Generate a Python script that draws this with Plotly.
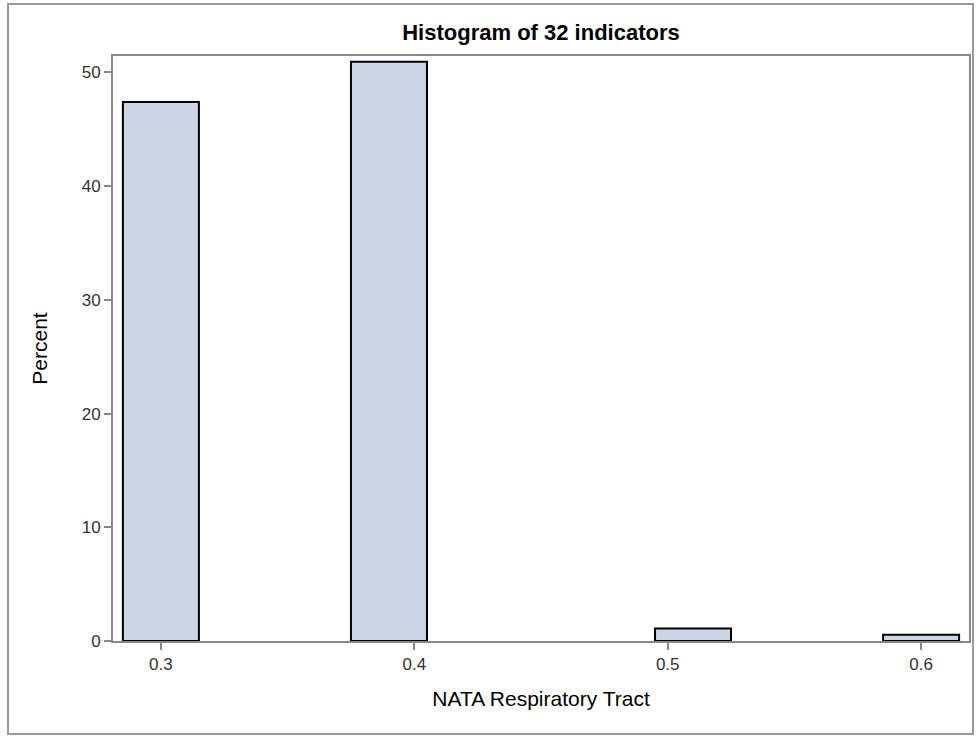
import plotly.graph_objects as go

bin_midpoints = [0.30, 0.39, 0.51, 0.60]
percent = [47.4, 50.95, 1.1, 0.55]
bin_width = 0.03
x_ticks = [0.3, 0.4, 0.5, 0.6]
x_tick_labels = ["0.3", "0.4", "0.5", "0.6"]
y_ticks = [0, 10, 20, 30, 40, 50]

fig = go.Figure()
fig.add_trace(go.Bar(
    x=bin_midpoints, y=percent, width=[bin_width] * len(bin_midpoints),
    marker=dict(color="#CAD5E5", line=dict(color="black", width=2)),
    showlegend=False, hoverinfo="x+y",
))

axis_color = "#888888"
font_family = "Liberation Sans, Arial, sans-serif"

fig.update_layout(
    width=976, height=736,
    paper_bgcolor="white", plot_bgcolor="white",
    margin=dict(l=113, r=7, t=56, b=95, autoexpand=False),
    font=dict(family=font_family, color="#333333"),
    title=dict(text="<b>Histogram of 32 indicators</b>", x=(113 + 969) / 2 / 976, xanchor="center",
               xref="container", yref="container",
               y=1 - 32 / 736, yanchor="middle",
               font=dict(size=22, color="black", family=font_family)),
    xaxis=dict(range=[0.2811, 0.6189], tickvals=x_ticks, ticktext=x_tick_labels,
               ticks="outside", ticklen=7, tickwidth=2, tickcolor=axis_color,
               showline=True, linecolor=axis_color, linewidth=2, mirror=True,
               showgrid=False, zeroline=False,
               tickfont=dict(size=17, color="#333333"),
               title=dict(text="NATA Respiratory Tract", font=dict(size=21, color="black"), standoff=18)),
    yaxis=dict(range=[0, 51.45], tickvals=y_ticks,
               ticks="outside", ticklen=7, tickwidth=2, tickcolor=axis_color,
               showline=True, linecolor=axis_color, linewidth=2, mirror=True,
               showgrid=False, zeroline=False,
               tickfont=dict(size=17, color="#333333"),
               title=dict(text="Percent", font=dict(size=21, color="black"), standoff=28)),
)

# outer border of the picture
fig.add_shape(type="rect", xref="paper", yref="paper",
              x0=(8 - 113) / 856, x1=(973 - 113) / 856,
              y0=(641 - 734) / 585, y1=(641 - 4) / 585,
              line=dict(color="#9a9a9a", width=2), fillcolor="rgba(0,0,0,0)", layer="below")

fig.write_html("out.html", config={"displayModeBar": False},
               post_script="document.body.style.margin='0';")
